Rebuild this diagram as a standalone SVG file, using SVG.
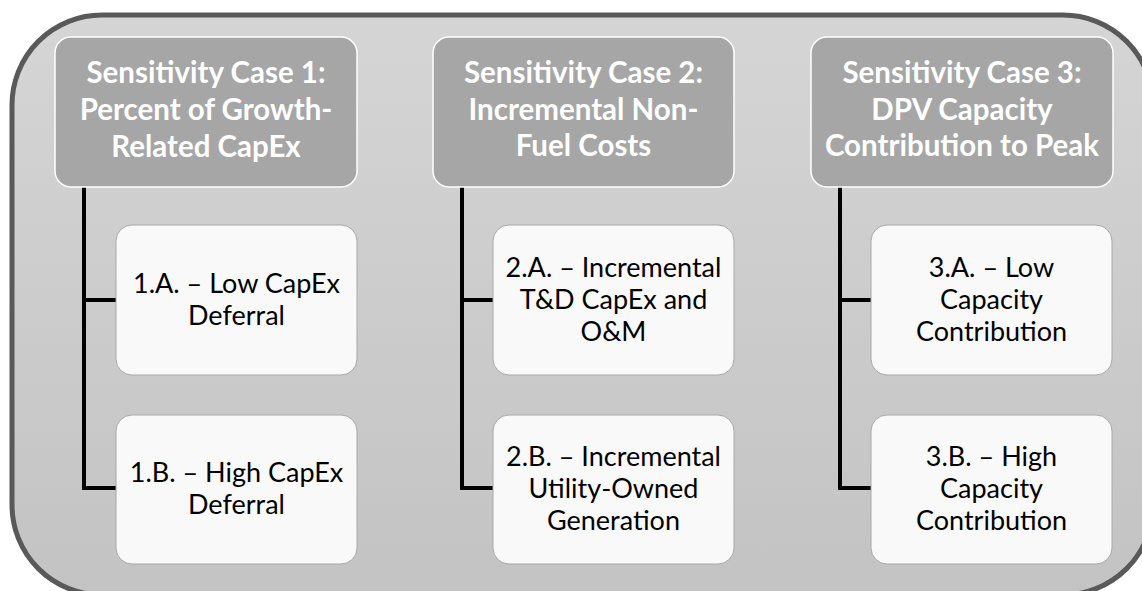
<svg xmlns="http://www.w3.org/2000/svg" width="1142" height="591" viewBox="0 0 1142 591">
  <defs>
    <linearGradient id="bg" x1="0" y1="0" x2="0" y2="1">
      <stop offset="0" stop-color="#d5d5d5"/>
      <stop offset="1" stop-color="#c3c3c3"/>
    </linearGradient>
    <style>
      .hdr { fill: #a6a6a6; stroke: #ffffff; stroke-width: 1.5; }
      .child { fill: #f9f9f9; stroke: #a8a8a8; stroke-width: 1; }
      .ht { font-family: Lato, "Liberation Sans", sans-serif; font-weight: bold; font-size: 29.5px; fill: #ffffff; text-anchor: middle; }
      .ct { font-family: Lato, "Liberation Sans", sans-serif; font-size: 27px; fill: #000000; text-anchor: middle; }
      .conn { fill: none; stroke: #000000; stroke-width: 4; }
    </style>
  </defs>
  <rect width="1142" height="591" fill="#ffffff"/>
  <g id="frame">
    <rect x="12" y="15" width="1141" height="580" rx="90" ry="90" fill="url(#bg)" stroke="#595959" stroke-width="5"/>
  </g>
  <g id="connectors">
    <path class="conn" d="M84 187 V488 H116 M84 300 H116"/>
    <path class="conn" d="M462 187 V488 H493 M462 300 H493"/>
    <path class="conn" d="M840 187 V488 H871 M840 300 H871"/>
  </g>
  <g id="case1">
    <rect class="hdr" x="55" y="37" width="302" height="150" rx="16"/>
    <text class="ht" x="206" y="83">Sensitivity Case 1:</text>
    <text class="ht" x="206" y="120">Percent of Growth-</text>
    <text class="ht" x="206" y="157">Related CapEx</text>
  </g>
  <g id="case1a">
    <rect class="child" x="116" y="225" width="241" height="150" rx="16"/>
    <text class="ct" x="236.5" y="293">1.A. – Low CapEx</text>
    <text class="ct" x="236.5" y="325">Deferral</text>
  </g>
  <g id="case1b">
    <rect class="child" x="116" y="415" width="241" height="149" rx="16"/>
    <text class="ct" x="236.5" y="482">1.B. – High CapEx</text>
    <text class="ct" x="236.5" y="514">Deferral</text>
  </g>
  <g id="case2">
    <rect class="hdr" x="433" y="37" width="301" height="150" rx="16"/>
    <text class="ht" x="583.5" y="83">Sensitivity Case 2:</text>
    <text class="ht" x="583.5" y="120">Incremental Non-</text>
    <text class="ht" x="583.5" y="156">Fuel Costs</text>
  </g>
  <g id="case2a">
    <rect class="child" x="493" y="225" width="241" height="150" rx="16"/>
    <text class="ct" x="613.5" y="277">2.A. – Incremental</text>
    <text class="ct" x="613.5" y="309">T&amp;D CapEx and</text>
    <text class="ct" x="613.5" y="341">O&amp;M</text>
  </g>
  <g id="case2b">
    <rect class="child" x="493" y="415" width="241" height="149" rx="16"/>
    <text class="ct" x="613.5" y="466">2.B. – Incremental</text>
    <text class="ct" x="613.5" y="498">Utility-Owned</text>
    <text class="ct" x="613.5" y="530">Generation</text>
  </g>
  <g id="case3">
    <rect class="hdr" x="811" y="37" width="302" height="150" rx="16"/>
    <text class="ht" x="962" y="83">Sensitivity Case 3:</text>
    <text class="ht" x="962" y="120">DPV Capacity</text>
    <text class="ht" x="962" y="156">Contribution to Peak</text>
  </g>
  <g id="case3a">
    <rect class="child" x="871" y="225" width="241" height="150" rx="16"/>
    <text class="ct" x="991.5" y="277">3.A. – Low</text>
    <text class="ct" x="991.5" y="309">Capacity</text>
    <text class="ct" x="991.5" y="341">Contribution</text>
  </g>
  <g id="case3b">
    <rect class="child" x="871" y="415" width="241" height="149" rx="16"/>
    <text class="ct" x="991.5" y="466">3.B. – High</text>
    <text class="ct" x="991.5" y="498">Capacity</text>
    <text class="ct" x="991.5" y="530">Contribution</text>
  </g>
</svg>
